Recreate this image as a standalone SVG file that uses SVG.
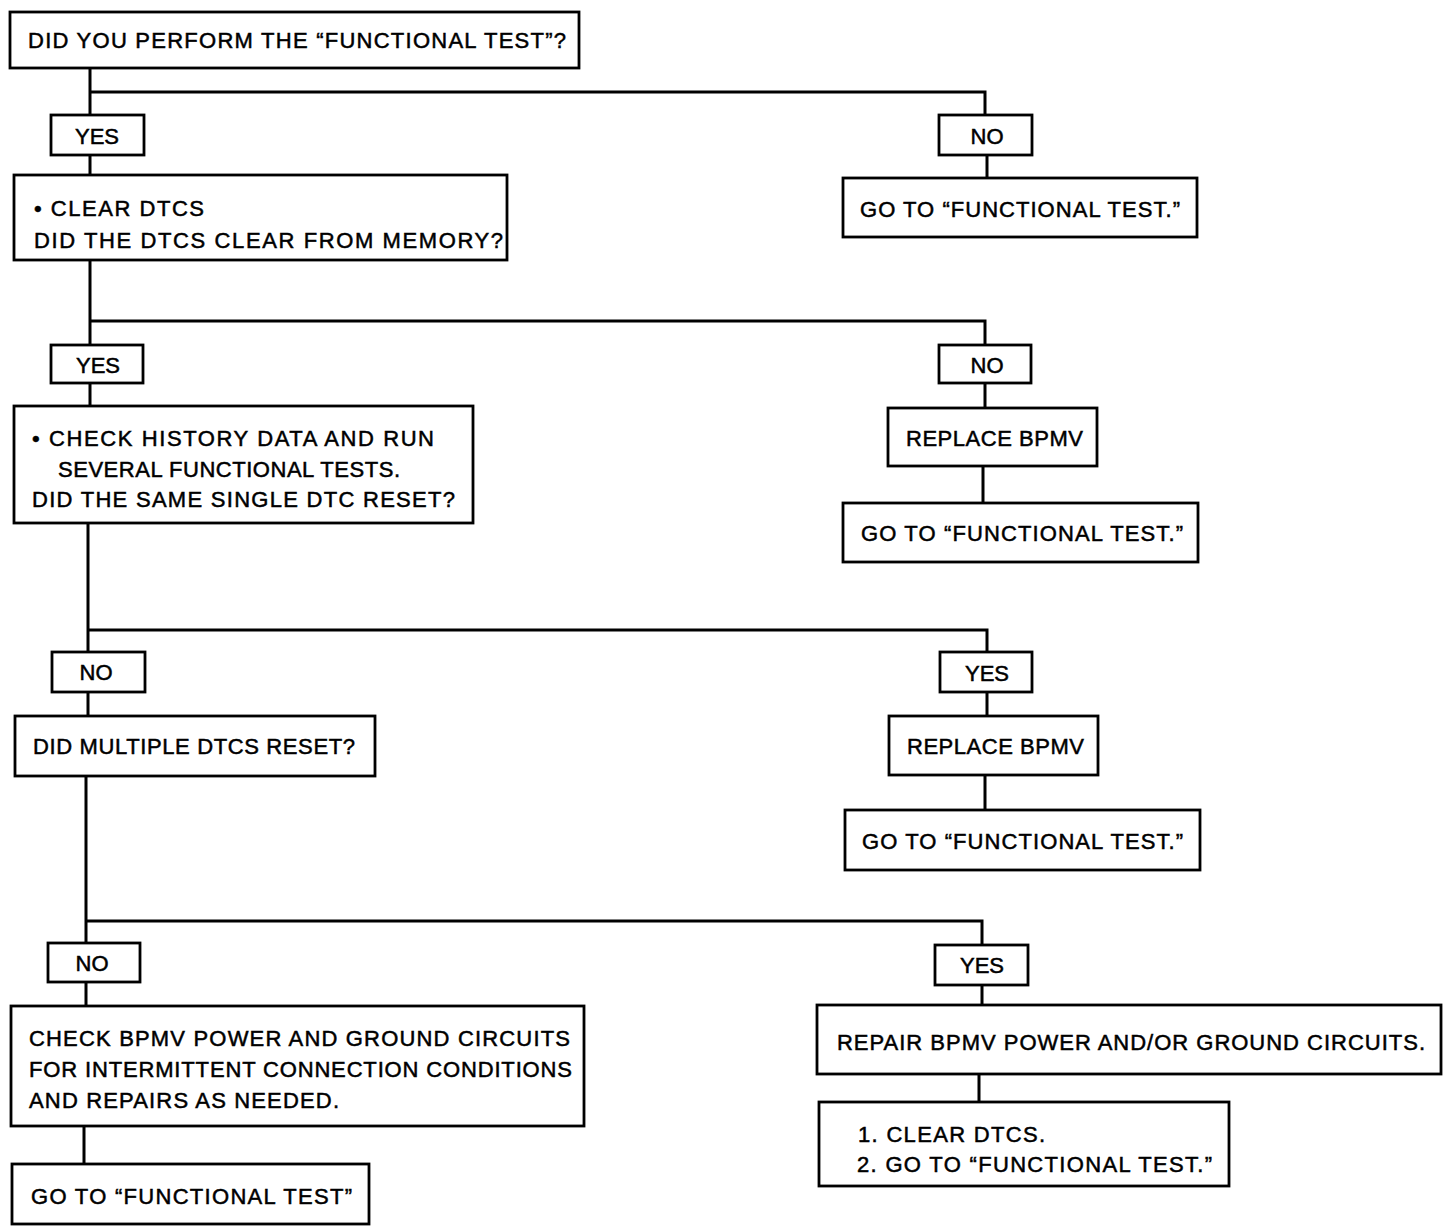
<svg xmlns="http://www.w3.org/2000/svg" width="1456" height="1232" viewBox="0 0 1456 1232">
<style>
.box{fill:#fff;stroke:#000;stroke-width:2.8}
.t{font-family:"Liberation Sans",Arial,sans-serif;font-size:22px;fill:#000;stroke:#000;stroke-width:0.5}
.c{stroke:#000;stroke-width:3;fill:none}
</style>
<rect width="1456" height="1232" fill="#fff"/>
<g id="connectors">
<path class="c" d="M90 68V115M90 92H985V115M90 155V175"/>
<path class="c" d="M987 155V178"/>
<path class="c" d="M90 260V345M90 321H985V345M90 383V406"/>
<path class="c" d="M985 383V408M983 466V503"/>
<path class="c" d="M88 523V652M88 630H987V652M88 692V716"/>
<path class="c" d="M987 692V716M985 775V810"/>
<path class="c" d="M86 776V943M86 921H982V945M86 982V1006M84 1126V1164"/>
<path class="c" d="M982 985V1005M979 1074V1102"/>
</g>
<g id="n1"><rect class="box" x="10" y="12" width="569" height="56"/><text class="t" x="28" y="48" textLength="538" lengthAdjust="spacing">DID YOU PERFORM THE “FUNCTIONAL TEST”?</text></g>
<g id="yes1"><rect class="box" x="51" y="115" width="93" height="40"/><text class="t" x="97" y="144" text-anchor="middle">YES</text></g>
<g id="no1"><rect class="box" x="939" y="115" width="93" height="40"/><text class="t" x="987" y="144" text-anchor="middle">NO</text></g>
<g id="n2"><rect class="box" x="14" y="175" width="493" height="85"/><text class="t" x="34" y="216" textLength="170" lengthAdjust="spacing">• CLEAR DTCS</text><text class="t" x="34" y="248" textLength="469" lengthAdjust="spacing">DID THE DTCS CLEAR FROM MEMORY?</text></g>
<g id="goto1"><rect class="box" x="843" y="178" width="354" height="59"/><text class="t" x="860" y="217" textLength="320" lengthAdjust="spacing">GO TO “FUNCTIONAL TEST.”</text></g>
<g id="yes2"><rect class="box" x="51" y="345" width="92" height="38"/><text class="t" x="98" y="373" text-anchor="middle">YES</text></g>
<g id="no2"><rect class="box" x="939" y="345" width="92" height="38"/><text class="t" x="987" y="373" text-anchor="middle">NO</text></g>
<g id="replace1"><rect class="box" x="888" y="408" width="209" height="58"/><text class="t" x="906" y="446" textLength="177" lengthAdjust="spacing">REPLACE BPMV</text></g>
<g id="goto2"><rect class="box" x="843" y="503" width="355" height="59"/><text class="t" x="861" y="541" textLength="322" lengthAdjust="spacing">GO TO “FUNCTIONAL TEST.”</text></g>
<g id="n3"><rect class="box" x="14" y="406" width="459" height="117"/><text class="t" x="32" y="446" textLength="402" lengthAdjust="spacing">• CHECK HISTORY DATA AND RUN</text><text class="t" x="58" y="477" textLength="342" lengthAdjust="spacing">SEVERAL FUNCTIONAL TESTS.</text><text class="t" x="32" y="507" textLength="423" lengthAdjust="spacing">DID THE SAME SINGLE DTC RESET?</text></g>
<g id="no3"><rect class="box" x="52" y="652" width="93" height="40"/><text class="t" x="96" y="680" text-anchor="middle">NO</text></g>
<g id="yes3"><rect class="box" x="940" y="652" width="92" height="40"/><text class="t" x="987" y="681" text-anchor="middle">YES</text></g>
<g id="replace2"><rect class="box" x="889" y="716" width="209" height="59"/><text class="t" x="907" y="754" textLength="177" lengthAdjust="spacing">REPLACE BPMV</text></g>
<g id="goto3"><rect class="box" x="845" y="810" width="355" height="60"/><text class="t" x="862" y="849" textLength="321" lengthAdjust="spacing">GO TO “FUNCTIONAL TEST.”</text></g>
<g id="n4"><rect class="box" x="15" y="716" width="360" height="60"/><text class="t" x="33" y="754" textLength="322" lengthAdjust="spacing">DID MULTIPLE DTCS RESET?</text></g>
<g id="no4"><rect class="box" x="48" y="943" width="92" height="39"/><text class="t" x="92" y="971" text-anchor="middle">NO</text></g>
<g id="yes4"><rect class="box" x="935" y="945" width="93" height="40"/><text class="t" x="982" y="973" text-anchor="middle">YES</text></g>
<g id="n5"><rect class="box" x="11" y="1006" width="573" height="120"/><text class="t" x="29" y="1046" textLength="541" lengthAdjust="spacing">CHECK BPMV POWER AND GROUND CIRCUITS</text><text class="t" x="29" y="1077" textLength="543" lengthAdjust="spacing">FOR INTERMITTENT CONNECTION CONDITIONS</text><text class="t" x="29" y="1108" textLength="310" lengthAdjust="spacing">AND REPAIRS AS NEEDED.</text></g>
<g id="goto4"><rect class="box" x="12" y="1164" width="357" height="60"/><text class="t" x="31" y="1204" textLength="321" lengthAdjust="spacing">GO TO “FUNCTIONAL TEST”</text></g>
<g id="repair"><rect class="box" x="817" y="1005" width="624" height="69"/><text class="t" x="837" y="1050" textLength="588" lengthAdjust="spacing">REPAIR BPMV POWER AND/OR GROUND CIRCUITS.</text></g>
<g id="final"><rect class="box" x="819" y="1102" width="410" height="84"/><text class="t" x="858" y="1142" textLength="187" lengthAdjust="spacing">1. CLEAR DTCS.</text><text class="t" x="857" y="1172" textLength="355" lengthAdjust="spacing">2. GO TO “FUNCTIONAL TEST.”</text></g>
</svg>
